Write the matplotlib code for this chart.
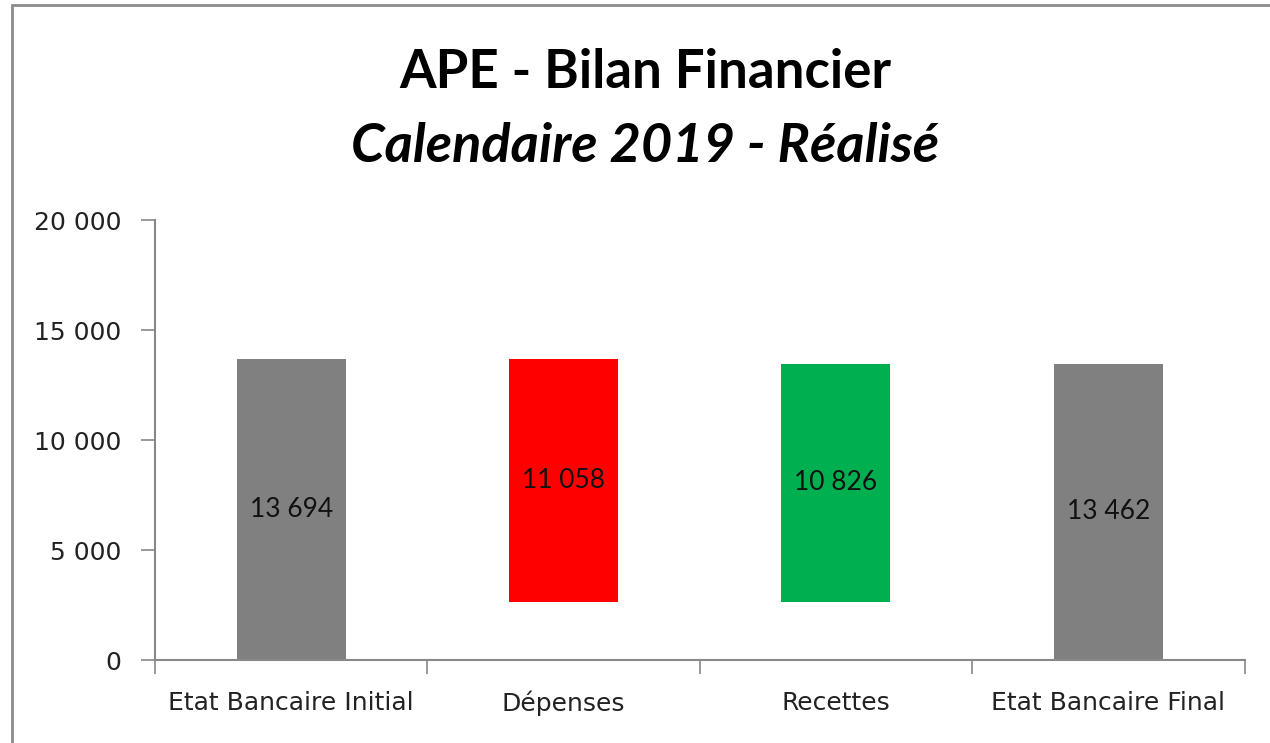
import matplotlib
matplotlib.use('Agg')
import matplotlib.pyplot as plt
from matplotlib.patches import Rectangle
from matplotlib.ticker import FuncFormatter

# Donnees du bilan
categories = ['Etat Bancaire Initial', 'Dépenses', 'Recettes', 'Etat Bancaire Final']
montants = [13694, 11058, 10826, 13462]
sens = ['total', 'moins', 'plus', 'total']
couleurs = ['#808080', '#ff0000', '#00b050', '#808080']

def fmt_fr(v):
    return '{:,.0f}'.format(v).replace(',', ' ')

# Calcul des bases pour la cascade
bases = []
niveau = 0
for m, s in zip(montants, sens):
    if s == 'total':
        bases.append(0)
        niveau = m
    elif s == 'moins':
        niveau = niveau - m
        bases.append(niveau)
    else:
        bases.append(niveau)
        niveau = niveau + m

fig = plt.figure(figsize=(12.7, 7.43), dpi=100)
ax = fig.add_axes([0.122, 0.1117, 0.858, 0.5922])

x = list(range(len(categories)))
ax.bar(x, montants, bottom=bases, width=0.40, color=couleurs, zorder=2)

for xi, m, b in zip(x, montants, bases):
    ax.text(xi, b + m / 2, fmt_fr(m), ha='center', va='center',
            fontsize=19, family='Lato', color='#111111', zorder=3)

ax.set_xlim(-0.5, len(categories) - 0.5)
ax.set_ylim(0, 20000)
ax.set_yticks([0, 5000, 10000, 15000, 20000])
ax.yaxis.set_major_formatter(FuncFormatter(lambda v, p: fmt_fr(v)))

# Graduations x aux frontieres, etiquettes au centre
ax.set_xticks([i - 0.5 for i in range(len(categories) + 1)])
ax.set_xticklabels([])
ax.set_xticks(x, minor=True)
ax.set_xticklabels(categories, minor=True)
ax.tick_params(axis='x', which='minor', length=0, pad=22, labelsize=18,
               labelcolor='#222222')
ax.tick_params(axis='x', which='major', length=10, color='#888888', width=1.2)
ax.tick_params(axis='y', length=10, color='#888888', width=1.2, pad=14,
               labelsize=18, labelcolor='#222222')

for side in ['top', 'right']:
    ax.spines[side].set_visible(False)
for side in ['left', 'bottom']:
    ax.spines[side].set_color('#888888')
    ax.spines[side].set_linewidth(1.5)

# Titre
fig.text(0.508, 0.903, 'APE - Bilan Financier', ha='center', va='center',
         fontsize=38, fontweight='bold', family='Lato')
fig.text(0.508, 0.803, 'Calendaire 2019 - Réalisé', ha='center', va='center',
         fontsize=39, fontweight='bold', fontstyle='italic', family='Lato')

# Cadre du graphique
fig.patches.append(Rectangle((12 / 1270, -0.05), 1.1, 1.0 - 5 / 743 + 0.05,
                             transform=fig.transFigure, fill=False,
                             edgecolor='#8c8c8c', linewidth=2))

fig.savefig('out.png', dpi=100)
